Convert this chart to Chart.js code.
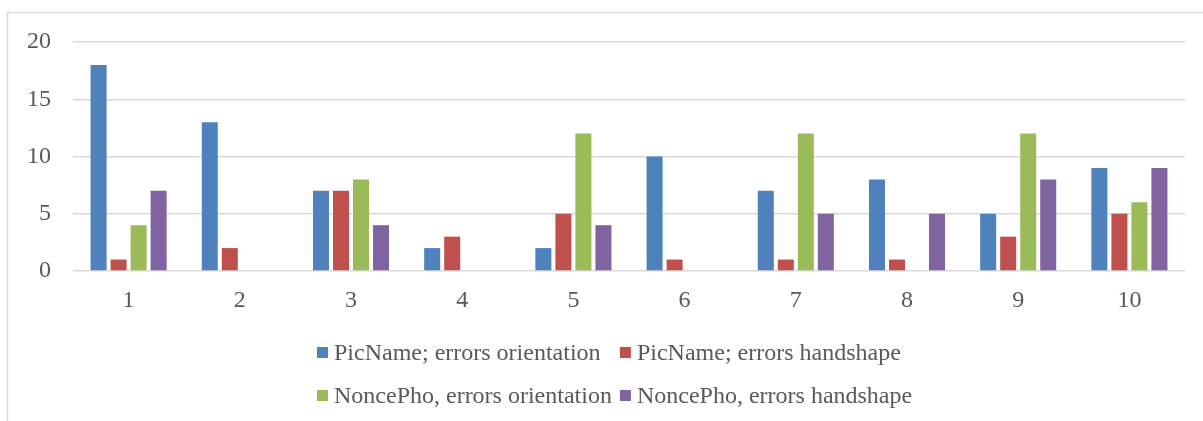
<!DOCTYPE html>
<html>
<head>
<meta charset="utf-8">
<script src="https://cdn.jsdelivr.net/npm/chart.js@4"></script>
<style>
  html, body { margin: 0; padding: 0; background: #fff; }
  #wrap { width: 1203px; height: 421px; }
</style>
</head>
<body>
<div id="wrap"><canvas id="errorsChart" width="1203" height="421"></canvas></div>
<script>
// categories and series
const categories = ["1", "2", "3", "4", "5", "6", "7", "8", "9", "10"];
const seriesNames = [
  "PicName; errors orientation",
  "PicName; errors handshape",
  "NoncePho, errors orientation",
  "NoncePho, errors handshape",
];
const picNameOrientation = [18, 13, 7, 2, 2, 10, 7, 8, 5, 9];
const picNameHandshape = [1, 2, 7, 3, 5, 1, 1, 1, 3, 5];
const noncePhoOrientation = [4, 0, 8, 0, 12, 0, 12, 0, 12, 6];
const noncePhoHandshape = [7, 0, 4, 0, 4, 0, 5, 5, 8, 9];
const yMin = 0;
const yMax = 20;
const yStep = 5;

const colors = ["#4F81BD", "#C0504D", "#9BBB59", "#8064A2"];
const textColor = "#595959";
const gridColor = "#d9d9d9";
const serif = "'Liberation Serif', 'Times New Roman', serif";

// frame + two-column legend drawn on the canvas (Excel style)
const excelLegend = {
  id: "excelLegend",
  beforeDraw(chart) {
    const ctx = chart.ctx;
    ctx.save();
    ctx.strokeStyle = gridColor;
    ctx.lineWidth = 1.5;
    ctx.beginPath();
    ctx.moveTo(7.5, chart.height);
    ctx.lineTo(7.5, 12.5);
    ctx.lineTo(chart.width, 12.5);
    ctx.stroke();
    ctx.restore();
  },
  afterDraw(chart) {
    const ctx = chart.ctx;
    const sets = chart.data.datasets;
    const box = 11;
    const gap = 6;
    const colGap = 8;
    const left = 317;
    const rows = [352.5, 395.5];
    ctx.save();
    ctx.font = "24px " + serif;
    ctx.textBaseline = "middle";
    let col1Width = 0;
    sets.forEach((ds, i) => {
      if (i % 2 === 0) col1Width = Math.max(col1Width, ctx.measureText(ds.label).width);
    });
    const colX = [left, left + box + gap + col1Width + colGap];
    sets.forEach((ds, i) => {
      const x = colX[i % 2];
      const y = rows[Math.floor(i / 2)];
      ctx.fillStyle = ds.backgroundColor;
      ctx.fillRect(x, y - box / 2, box, box);
      ctx.fillStyle = textColor;
      ctx.fillText(ds.label, x + box + gap, y + 1);
    });
    ctx.restore();
  },
};

const ctx = document.getElementById("errorsChart").getContext("2d");
new Chart(ctx, {
  type: "bar",
  data: {
    labels: categories,
    datasets: [picNameOrientation, picNameHandshape, noncePhoOrientation, noncePhoHandshape].map((vals, i) => ({
      label: seriesNames[i],
      data: vals,
      backgroundColor: colors[i],
      borderWidth: 0,
      categoryPercentage: 0.72,
      barPercentage: 0.8,
    })),
  },
  options: {
    responsive: false,
    animation: false,
    layout: {
      padding: { left: 0, top: 42, right: 18, bottom: 100 },
    },
    plugins: {
      legend: { display: false },
      tooltip: { enabled: false },
    },
    scales: {
      x: {
        grid: { display: false, drawTicks: false },
        border: { display: false },
        ticks: {
          color: textColor,
          font: { family: serif, size: 24 },
          padding: 15,
        },
        afterFit(scale) {
          scale.height = 50;
        },
      },
      y: {
        min: yMin,
        max: yMax,
        grid: { color: gridColor, lineWidth: 1.5, drawTicks: false },
        border: { display: false },
        ticks: {
          stepSize: yStep,
          color: textColor,
          font: { family: serif, size: 24 },
          padding: 22,
        },
        afterFit(scale) {
          scale.width = 73;
        },
      },
    },
  },
  plugins: [excelLegend],
});
</script>
</body>
</html>
